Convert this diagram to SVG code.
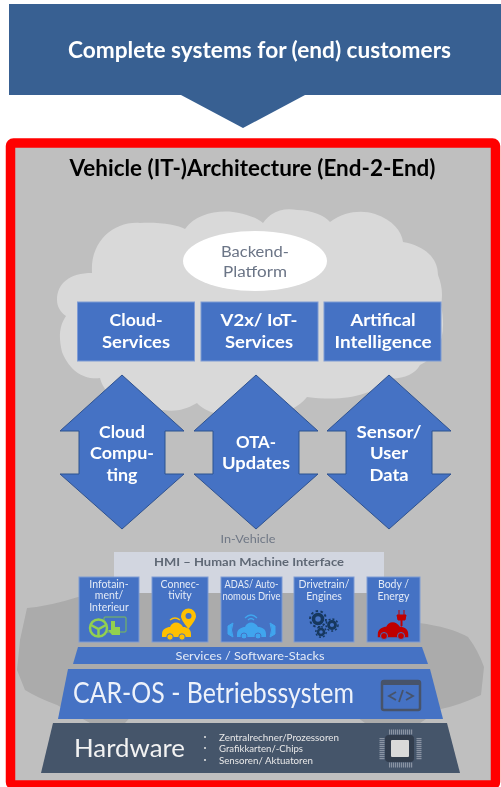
<svg xmlns="http://www.w3.org/2000/svg" width="501" height="787" viewBox="0 0 501 787">
<style>
text{font-family:Lato,"Liberation Sans",sans-serif}
.c{text-anchor:middle}
.w{fill:#fff}
.b{font-weight:700}
.blue{fill:#4472c4;stroke:#7f9bd4;stroke-width:1}
.arr{fill:#4472c4;stroke:#2f528f;stroke-width:1}
.h{font-size:17.5px;font-weight:700;fill:#fff;text-anchor:middle}
.s{font-size:10.5px;fill:#e4eaf6;text-anchor:middle}
.g{fill:#6b7486}
</style>
<defs>
<filter id="soft" x="-5%" y="-5%" width="110%" height="110%"><feGaussianBlur stdDeviation="0.6"/></filter>
<filter id="soft2" x="-5%" y="-5%" width="110%" height="110%"><feGaussianBlur stdDeviation="0.3"/></filter>
<path id="car" d="M-14 4C-14-1-9-3-6-3C-4-9 4-9 7-3C11-3 15-1 15 4L15 7L-14 7Z"/>
</defs>
<rect width="501" height="787" fill="#fff"/>
<g id="banner" filter="url(#soft2)">
<path d="M9 4H501V95H305L243 128L181 95H9Z" fill="#376092"/>
<text class="c w b" x="259.500" y="58" font-size="22" textLength="383" lengthAdjust="spacingAndGlyphs">Complete systems for (end) customers</text>
</g>
<g id="frame">
<rect x="10.500" y="143" width="485" height="642" rx="3" fill="#bfbfbf" stroke="#ff0000" stroke-width="9.500"/>
<text class="c b" x="252.500" y="176" font-size="22" fill="#000" textLength="366" lengthAdjust="spacingAndGlyphs" filter="url(#soft2)">Vehicle (IT-)Architecture (End-2-End)</text>
</g>
<g filter="url(#soft)">
<g id="vehicle-silhouette">
<path d="M27 608Q50 606 78 597L113 592H383L419 623Q450 627 468 637Q478 650 484 667L481 695Q460 705 441 709L420 723H365L350 712H135L125 723H90L57 705Q38 698 25 690L17 670L20 640Z" fill="#ababab"/>
</g>
<g id="cloud">
<path d="M57 300C57 283 70 273 92 273C90 240 115 221 140 223C160 222 178 225 185 229C195 215 215 210 233 212C246 214 258 218 263 223C272 210 285 208 297 210C312 210 325 216 330 222C345 211 362 210 375 214C393 220 402 232 403 242C425 246 438 258 438 275C442 285 443 295 441 305C447 335 440 355 420 365C415 375 400 380 387 378C375 395 345 402 307 397C295 412 270 420 245 418C225 418 205 412 197 403C185 410 175 412 163 410C135 412 105 400 100 378C85 380 70 372 62 352C58 335 60 325 66 316C60 312 57 306 57 300Z" fill="#d9d9d9"/>
</g>
<g id="backend-platform">
<ellipse cx="255" cy="261" rx="72" ry="30" fill="#fff"/>
<text class="c g" x="255" y="257" font-size="15.500" textLength="68" lengthAdjust="spacingAndGlyphs">Backend-</text>
<text class="c g" x="255" y="277" font-size="15.500" textLength="64" lengthAdjust="spacingAndGlyphs">Platform</text>
</g>
<g id="cloud-services">
<rect class="blue" x="77.500" y="302" width="117" height="59"/>
<text class="h" x="136" y="326" textLength="53" lengthAdjust="spacingAndGlyphs">Cloud-</text>
<text class="h" x="136" y="348" textLength="68" lengthAdjust="spacingAndGlyphs">Services</text>
</g>
<g id="v2x-iot-services">
<rect class="blue" x="201" y="302" width="117" height="59"/>
<text class="h" x="259" y="326" textLength="77" lengthAdjust="spacingAndGlyphs">V2x/ IoT-</text>
<text class="h" x="259" y="348" textLength="68" lengthAdjust="spacingAndGlyphs">Services</text>
</g>
<g id="artificial-intelligence">
<rect class="blue" x="324" y="302" width="117" height="59"/>
<text class="h" x="383" y="326" textLength="65" lengthAdjust="spacingAndGlyphs">Artifical</text>
<text class="h" x="383" y="348" textLength="97" lengthAdjust="spacingAndGlyphs">Intelligence</text>
</g>
<g id="cloud-computing">
<path class="arr" d="M122 375L184 431H165V474H184L122 529L60 474H79V431H60Z"/>
<text class="h" x="122" y="438" textLength="46" lengthAdjust="spacingAndGlyphs">Cloud</text>
<text class="h" x="122" y="459" textLength="64" lengthAdjust="spacingAndGlyphs">Compu-</text>
<text class="h" x="122" y="481" textLength="31" lengthAdjust="spacingAndGlyphs">ting</text>
</g>
<g id="ota-updates">
<path class="arr" d="M256 375L318 431H299V474H318L256 529L194 474H213V431H194Z"/>
<text class="h" x="256" y="448" textLength="40" lengthAdjust="spacingAndGlyphs">OTA-</text>
<text class="h" x="256" y="469" textLength="68" lengthAdjust="spacingAndGlyphs">Updates</text>
</g>
<g id="sensor-user-data">
<path class="arr" d="M389 375L451 431H432V474H451L389 529L327 474H346V431H327Z"/>
<text class="h" x="389" y="438" textLength="65" lengthAdjust="spacingAndGlyphs">Sensor/</text>
<text class="h" x="389" y="459" textLength="38" lengthAdjust="spacingAndGlyphs">User</text>
<text class="h" x="389" y="481" textLength="39" lengthAdjust="spacingAndGlyphs">Data</text>
</g>
<g id="in-vehicle">
<text class="c" x="248" y="543" font-size="11.500" fill="#6f7785" textLength="55" lengthAdjust="spacingAndGlyphs">In-Vehicle</text>
</g>
<g id="hmi">
<rect x="114" y="552" width="270" height="41" fill="#d2d6e0"/>
<text class="c b" x="249" y="566" font-size="12" fill="#5f6875" textLength="190" lengthAdjust="spacingAndGlyphs">HMI – Human Machine Interface</text>
</g>
<g id="infotainment">
<rect class="blue" x="79" y="577" width="60" height="65"/>
<text class="s" x="109" y="588">Infotain-</text>
<text class="s" x="109" y="599">ment/</text>
<text class="s" x="109" y="611">Interieur</text>
<rect x="104" y="617" width="22" height="15" rx="1" fill="none" stroke="#7fbf50" stroke-width="1"/>
<circle cx="98.500" cy="628" r="8.500" fill="#4472c4" stroke="#92d050" stroke-width="2.500"/>
<path d="M91 625L98.500 629L106 625M98.500 629V636" fill="none" stroke="#92d050" stroke-width="2.500"/>
<path d="M111 621h4v6h5v8h-8l-4-5h3Z" fill="#92d050"/>
</g>
<g id="connectivity">
<rect class="blue" x="152" y="577" width="56" height="65"/>
<text class="s" x="180" y="588">Connec-</text>
<text class="s" x="180" y="599">tivity</text>
<use href="#car" x="176" y="630" fill="#ffc000"/>
<circle cx="170" cy="637" r="3.200" fill="#ffc000" stroke="#4472c4"/>
<circle cx="182" cy="637" r="3.200" fill="#ffc000" stroke="#4472c4"/>
<path d="M188.500 629C183 622 181 619 181 616A7.500 7.500 0 0 1 196 616C196 619 194 622 188.500 629Z" fill="#ffc000"/>
<circle cx="188.500" cy="616" r="3" fill="#4472c4"/>
<path d="M170 620Q175 616 180 620" fill="none" stroke="#ffc000" stroke-width="1.500"/>
</g>
<g id="adas">
<rect class="blue" x="221" y="577" width="61" height="65"/>
<text class="s" x="251.500" y="588" textLength="54" lengthAdjust="spacingAndGlyphs">ADAS/ Auto-</text>
<text class="s" x="251.500" y="600" textLength="58" lengthAdjust="spacingAndGlyphs">nomous Drive</text>
<use href="#car" x="251" y="630" fill="#41a5ee"/>
<circle cx="244" cy="636" r="3" fill="#41a5ee" stroke="#4472c4"/>
<circle cx="258" cy="636" r="3" fill="#41a5ee" stroke="#4472c4"/>
<path d="M233 623Q230 630 233 637L228 634V626ZM270 623Q273 630 270 637L275 634V626Z" fill="#41a5ee" stroke="#41a5ee"/>
<path d="M245 618Q251 612 257 618M248 620Q251 617 254 620" fill="none" stroke="#41a5ee" stroke-width="1.300"/>
</g>
<g id="drivetrain">
<rect class="blue" x="294" y="577" width="60" height="65"/>
<text class="s" x="324" y="588">Drivetrain/</text>
<text class="s" x="324" y="600">Engines</text>
<g fill="none" stroke="#17375e">
<circle cx="318" cy="619" r="4.500" stroke-width="3.500"/>
<circle cx="318" cy="619" r="8" stroke-width="1.800" stroke-dasharray="2.500 2.500"/>
<circle cx="332" cy="625" r="3.500" stroke-width="2.800"/>
<circle cx="332" cy="625" r="6" stroke-width="1.500" stroke-dasharray="2 2"/>
<circle cx="321" cy="632" r="3" stroke-width="2.500"/>
<circle cx="321" cy="632" r="5.200" stroke-width="1.400" stroke-dasharray="2 2"/>
</g>
</g>
<g id="body-energy">
<rect class="blue" x="367" y="577" width="53" height="65"/>
<text class="s" x="393.500" y="588">Body /</text>
<text class="s" x="393.500" y="600">Energy</text>
<use href="#car" transform="translate(392.500,630) scale(1.05)" fill="#c00000"/>
<circle cx="384" cy="636" r="3.500" fill="#c00000" stroke="#4472c4"/>
<circle cx="401" cy="636" r="3.500" fill="#c00000" stroke="#4472c4"/>
<path d="M397 615H406L405 620H402V626H401V620H398ZM399 610V615M404 610V615" fill="#c00000" stroke="#c00000"/>
</g>
<g id="services-stacks">
<path d="M78 647H422L428 664H73Z" fill="#4472c4"/>
<text class="c" x="250" y="660" font-size="12" fill="#e4eaf6" textLength="149" lengthAdjust="spacingAndGlyphs">Services / Software-Stacks</text>
</g>
<g id="car-os">
<path d="M68 669H430L443 719H58Z" fill="#4472c4"/>
<text x="73" y="703" font-size="28" fill="#eef2fa" textLength="281" lengthAdjust="spacingAndGlyphs">CAR-OS - Betriebssystem</text>
<rect x="382" y="681" width="38" height="29" rx="2" fill="#4472c4" stroke="#47536a" stroke-width="2.500"/>
<rect x="382" y="680" width="38" height="5" fill="#47536a"/>
<path d="M396 692L389 696L396 700M406 692L413 696L406 700M403 690L399 702" fill="none" stroke="#47536a" stroke-width="1.800"/>
</g>
<g id="hardware">
<path d="M53 723H447L460 773H41Z" fill="#44546a"/>
<text x="74" y="757" font-size="25" fill="#f2f2f2" textLength="111" lengthAdjust="spacingAndGlyphs">Hardware</text>
<g fill="#e8e8e8" font-size="9">
<circle cx="205" cy="737" r="1"/><circle cx="205" cy="748" r="1"/><circle cx="205" cy="760" r="1"/>
<text x="219" y="741" textLength="120" lengthAdjust="spacingAndGlyphs">Zentralrechner/Prozessoren</text>
<text x="219" y="752" textLength="84" lengthAdjust="spacingAndGlyphs">Grafikkarten/-Chips</text>
<text x="219" y="764" textLength="94" lengthAdjust="spacingAndGlyphs">Sensoren/ Aktuatoren</text>
</g>
<path d="M389 732H413M389 765H413M382 738V760M419 738V760" stroke="#8a94a3" stroke-width="5" stroke-dasharray="1.200 .8"/>
<rect x="385" y="735" width="29" height="27" rx="4" fill="#333d4d"/>
<rect x="391" y="740" width="18" height="17" rx="1" fill="#d9d9d9"/>
</g>
</g>
</svg>
